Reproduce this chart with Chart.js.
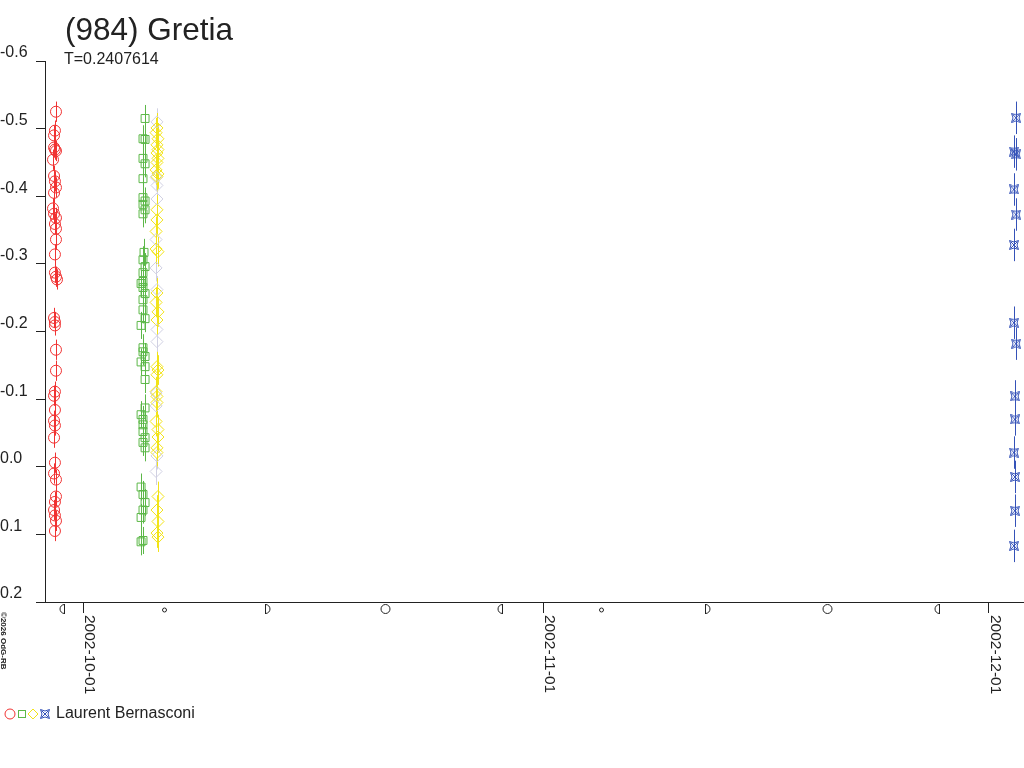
<!DOCTYPE html>
<html>
<head>
<meta charset="utf-8">
<title>(984) Gretia</title>
<script src="https://cdn.jsdelivr.net/npm/chart.js@4.4.1/dist/chart.umd.min.js"></script>
<style>
  html, body { margin: 0; padding: 0; background: #fff; }
  canvas { display: block; }
</style>
</head>
<body>
<canvas id="lightCurve" width="1024" height="768"></canvas>
<script>
// days counted from 2002-10-01 00:00 UT, magnitudes relative
const redDays = [-1.82, -1.89, -1.95, -1.95, -1.89, -1.82, -2.02, -1.95, -1.89, -1.82, -1.95, -2.02, -1.95, -1.82,
  -1.89, -1.82, -1.82, -1.89, -1.89, -1.82, -1.75, -1.95, -1.89, -1.89, -1.82, -1.82, -1.89, -1.95, -1.89, -1.95,
  -1.89, -1.95, -1.89, -1.95, -1.82, -1.82, -1.89, -1.95, -1.89, -1.82, -1.89];
const redMags = [-0.525, -0.497, -0.490, -0.472, -0.469, -0.467, -0.454, -0.430, -0.422, -0.413, -0.405, -0.382,
  -0.374, -0.368, -0.359, -0.352, -0.336, -0.314, -0.287, -0.281, -0.277, -0.220, -0.214, -0.209, -0.173, -0.142,
  -0.111, -0.105, -0.084, -0.068, -0.061, -0.043, -0.006, 0.010, 0.019, 0.044, 0.052, 0.064, 0.072, 0.080, 0.095];

const greenDays = [4.18, 4.04, 4.18, 4.04, 4.18, 4.04, 4.04, 4.18, 4.04, 4.18, 4.04, 4.11, 4.04, 4.18, 4.04, 4.04,
  3.91, 4.04, 4.18, 4.04, 4.04, 4.18, 3.91, 4.04, 4.04, 4.18, 3.91, 4.18, 4.18, 4.18, 3.91, 4.04, 4.04, 4.04, 4.18,
  4.04, 4.18, 3.91, 4.04, 4.18, 4.04, 3.91, 4.04, 3.91];
const greenMags = [-0.515, -0.485, -0.484, -0.456, -0.448, -0.426, -0.398, -0.393, -0.388, -0.380, -0.374, -0.317,
  -0.306, -0.296, -0.287, -0.274, -0.271, -0.265, -0.256, -0.247, -0.232, -0.219, -0.209, -0.176, -0.170, -0.163,
  -0.155, -0.148, -0.129, -0.087, -0.077, -0.070, -0.062, -0.052, -0.043, -0.036, -0.028, 0.030, 0.041, 0.053,
  0.064, 0.075, 0.109, 0.111];

const yellowDays = [4.98, 4.92, 5.05, 4.98, 5.05, 4.98, 5.05, 4.98, 4.92, 5.05, 4.98, 4.98, 4.98, 4.92, 4.92, 5.05,
  4.98, 4.92, 5.05, 4.98, 4.98, 5.05, 4.98, 4.92, 4.98, 4.98, 4.92, 5.05, 5.05, 4.98, 4.98, 5.05, 4.98, 5.05, 4.98,
  5.05];
const yellowMags = [-0.501, -0.494, -0.485, -0.476, -0.469, -0.464, -0.456, -0.450, -0.439, -0.433, -0.429, -0.380,
  -0.365, -0.348, -0.322, -0.318, -0.257, -0.243, -0.229, -0.217, -0.148, -0.143, -0.136, -0.111, -0.104, -0.095,
  -0.067, -0.055, -0.044, -0.028, -0.021, 0.044, 0.064, 0.081, 0.098, 0.104];

const grayDays = [4.98, 4.92, 4.98, 4.98, 4.92, 4.92, 4.98, 4.98, 4.98, 4.92, 4.92, 4.98, 4.92];
const grayMags = [-0.510, -0.428, -0.416, -0.396, -0.336, -0.294, -0.262, -0.203, -0.185, -0.109, -0.090, -0.016,
  0.007];

const blueDays = [62.83, 62.69, 62.83, 62.69, 62.83, 62.69, 62.69, 62.83, 62.76, 62.76, 62.69, 62.76, 62.76, 62.69];
const blueMags = [-0.516, -0.466, -0.462, -0.410, -0.373, -0.328, -0.213, -0.182, -0.104, -0.070, -0.021, 0.015,
  0.065, 0.117];

// error bar half-length per series
const errRed = 0.015, errGreen = 0.02, errYellow = 0.022, errGray = 0.02, errBlue = 0.024;

const dateTicks = [0, 31, 61];
const dateLabels = ['2002-10-01', '2002-11-01', '2002-12-01'];
const yTicks = [-0.6, -0.5, -0.4, -0.3, -0.2, -0.1, 0.0, 0.1, 0.2];

// moon phases: 0 new, 1 first quarter, 2 full, 3 last quarter
const moonDays = [-1.29, 5.47, 12.23, 20.31, 28.23, 34.86, 41.87, 50.07, 57.66];
const moonPhases = [3, 0, 1, 2, 3, 0, 1, 2, 3];

const titleText = '(984) Gretia';
const periodText = 'T=0.2407614';
const observer = 'Laurent Bernasconi';
const copyText = '\u00a92026 OdG-RB';

const FONT = "'Liberation Sans', Arial, sans-serif";
const RED = '#f03232', GREEN = '#5cb848', YELLOW = '#f2e318', GRAY = '#d0d0e2', BLUE = '#3552b8';

function toPoints(days, mags) {
  return days.map((d, i) => ({ x: d, y: mags[i] }));
}

// small "¤" like marker for the last night
function starMarker(color, s) {
  const c = document.createElement('canvas');
  c.width = s; c.height = s;
  const g = c.getContext('2d');
  g.strokeStyle = color;
  g.lineWidth = 1;
  const a = 0.5, b = s - 0.5, m = s / 2;
  g.beginPath();
  g.moveTo(a, a);
  g.quadraticCurveTo(m, m - 1.5, b, a);
  g.quadraticCurveTo(m + 1.5, m, b, b);
  g.quadraticCurveTo(m, m + 1.5, a, b);
  g.quadraticCurveTo(m - 1.5, m, a, a);
  g.stroke();
  g.beginPath();
  g.moveTo(a + 1, a + 1); g.lineTo(b - 1, b - 1);
  g.moveTo(b - 1, a + 1); g.lineTo(a + 1, b - 1);
  g.stroke();
  return c;
}
const blueStar = starMarker(BLUE, 10);

const errorBars = {
  id: 'errorBars',
  beforeDatasetsDraw(chart) {
    const ctx = chart.ctx;
    const yScale = chart.scales.y;
    ctx.save();
    chart.data.datasets.forEach((ds, di) => {
      const meta = chart.getDatasetMeta(di);
      ctx.strokeStyle = ds.borderColor;
      ctx.lineWidth = 1;
      ds.data.forEach((p, i) => {
        const x = Math.round(meta.data[i].x) + 0.5;
        ctx.beginPath();
        ctx.moveTo(x, yScale.getPixelForValue(p.y - ds.errorBar));
        ctx.lineTo(x, yScale.getPixelForValue(p.y + ds.errorBar));
        ctx.stroke();
      });
    });
    ctx.restore();
  }
};

const decorations = {
  id: 'decorations',
  afterDraw(chart) {
    const ctx = chart.ctx;
    const xScale = chart.scales.x;
    const base = chart.chartArea.bottom;
    ctx.save();
    ctx.fillStyle = '#222';
    ctx.textAlign = 'left';
    ctx.textBaseline = 'alphabetic';
    ctx.font = '31.5px ' + FONT;
    ctx.fillText(titleText, 65, 40);
    ctx.font = '16px ' + FONT;
    ctx.fillText(periodText, 64, 64);

    // date labels, rotated clockwise
    dateTicks.forEach((d, i) => {
      const px = xScale.getPixelForValue(d);
      ctx.save();
      ctx.translate(px + 2, base + 13);
      ctx.rotate(Math.PI / 2);
      ctx.font = '15.5px ' + FONT;
      ctx.fillStyle = '#222';
      ctx.fillText(dateLabels[i], 0, 0);
      ctx.restore();
    });

    // copyright
    ctx.save();
    ctx.translate(1, base + 10);
    ctx.rotate(Math.PI / 2);
    ctx.font = 'bold 8px ' + FONT;
    ctx.fillStyle = '#222';
    ctx.fillText(copyText, 0, 0);
    ctx.restore();

    // moon phases under the axis
    ctx.strokeStyle = '#222';
    ctx.lineWidth = 1;
    moonDays.forEach((d, i) => {
      const px = Math.round(xScale.getPixelForValue(d)) + 0.5;
      const cy = base + 7;
      ctx.beginPath();
      if (moonPhases[i] === 0) {
        ctx.arc(px, cy + 1, 2, 0, Math.PI * 2);
      } else if (moonPhases[i] === 2) {
        ctx.arc(px, cy, 4.5, 0, Math.PI * 2);
      } else if (moonPhases[i] === 1) {
        ctx.moveTo(px, cy - 5);
        ctx.lineTo(px, cy + 5);
        ctx.moveTo(px, cy - 4.5);
        ctx.arc(px, cy, 4.5, -Math.PI / 2, Math.PI / 2);
      } else {
        ctx.moveTo(px, cy - 5);
        ctx.lineTo(px, cy + 5);
        ctx.moveTo(px, cy - 4.5);
        ctx.arc(px, cy, 4.5, -Math.PI / 2, Math.PI / 2, true);
      }
      ctx.stroke();
    });

    // legend
    const ly = 714;
    ctx.strokeStyle = RED;
    ctx.beginPath();
    ctx.arc(10, ly, 5, 0, Math.PI * 2);
    ctx.stroke();
    ctx.strokeStyle = GREEN;
    ctx.strokeRect(18.5, ly - 3.5, 7, 7);
    ctx.strokeStyle = YELLOW;
    ctx.beginPath();
    ctx.moveTo(33, ly - 5);
    ctx.lineTo(38, ly);
    ctx.lineTo(33, ly + 5);
    ctx.lineTo(28, ly);
    ctx.closePath();
    ctx.stroke();
    ctx.drawImage(blueStar, 40, ly - 5);
    ctx.font = '16px ' + FONT;
    ctx.fillStyle = '#222';
    ctx.fillText(observer, 56, 718);
    ctx.restore();
  }
};

const ctx = document.getElementById('lightCurve').getContext('2d');
new Chart(ctx, {
  type: 'scatter',
  data: {
    datasets: [
      { label: 'red', data: toPoints(redDays, redMags), borderColor: RED, pointStyle: 'circle', pointRadius: 5.5, errorBar: errRed },
      { label: 'green', data: toPoints(greenDays, greenMags), borderColor: GREEN, pointStyle: 'rect', pointRadius: 5.6, errorBar: errGreen },
      { label: 'gray', data: toPoints(grayDays, grayMags), borderColor: GRAY, pointStyle: 'rectRot', pointRadius: 6, errorBar: errGray },
      { label: 'yellow', data: toPoints(yellowDays, yellowMags), borderColor: YELLOW, pointStyle: 'rectRot', pointRadius: 6, errorBar: errYellow },
      { label: 'blue', data: toPoints(blueDays, blueMags), borderColor: BLUE, pointStyle: blueStar, pointRadius: 5, errorBar: errBlue }
    ].map(ds => Object.assign(ds, { backgroundColor: 'rgba(0,0,0,0)', borderWidth: 1, pointHoverRadius: ds.pointRadius }))
  },
  options: {
    responsive: false,
    animation: false,
    devicePixelRatio: 1,
    layout: { autoPadding: false, padding: { top: 61, left: 0, right: 0, bottom: 0 } },
    plugins: {
      legend: { display: false },
      tooltip: { enabled: false }
    },
    scales: {
      x: {
        type: 'linear',
        min: -2.559,
        max: 63.367,
        afterBuildTicks: axis => { axis.ticks = dateTicks.map(v => ({ value: v })); },
        afterFit: axis => { axis.height = 166; },
        ticks: { display: false },
        grid: { drawOnChartArea: false, tickLength: 11, color: '#222' },
        border: { color: '#222' }
      },
      y: {
        type: 'linear',
        reverse: true,
        min: -0.6,
        max: 0.2,
        afterBuildTicks: axis => { axis.ticks = yTicks.map(v => ({ value: v })); },
        afterFit: axis => { axis.width = 45; },
        ticks: {
          callback: v => v.toFixed(1),
          font: { family: FONT, size: 16 },
          color: '#222',
          crossAlign: 'far',
          labelOffset: -8,
          padding: 0
        },
        grid: { drawOnChartArea: false, tickLength: 9, color: '#222' },
        border: { color: '#222' }
      }
    }
  },
  plugins: [errorBars, decorations]
});
</script>
</body>
</html>
